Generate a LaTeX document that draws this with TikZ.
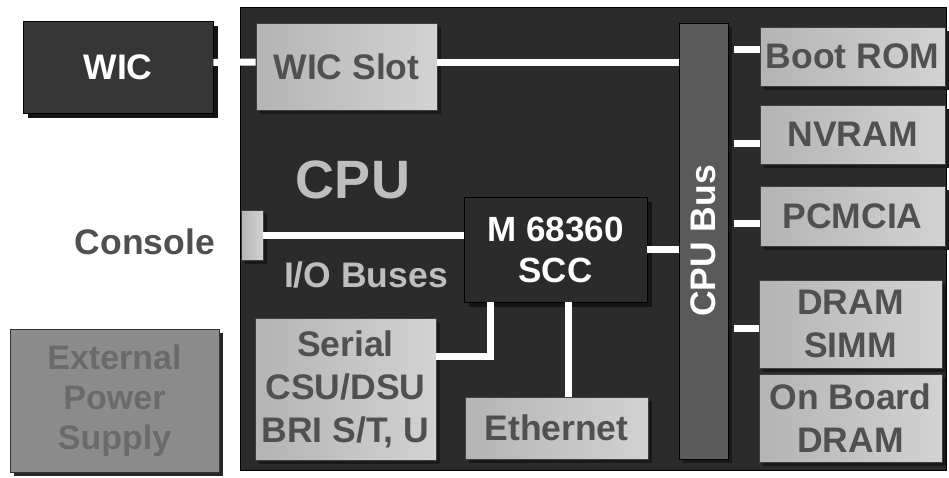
\documentclass[tikz,border=0pt]{standalone}
\usepackage{fontspec}
\setmainfont{Liberation Sans}
\usetikzlibrary{shadows}
\definecolor{cpubg}{HTML}{2B2B2B}
\definecolor{wicbg}{HTML}{363636}
\definecolor{busbg}{HTML}{5A5A5A}
\definecolor{lboxL}{HTML}{B4B4B4}
\definecolor{lboxR}{HTML}{D2D2D2}
\definecolor{ltext}{HTML}{505050}
\definecolor{epsbg}{HTML}{8C8C8C}
\definecolor{epstext}{HTML}{6A6A6A}
\definecolor{cputext}{HTML}{BEBEBE}
\tikzset{
  bigfont/.style={font=\bfseries\fontsize{35.5}{43}\selectfont},
  base/.style={rectangle, inner sep=0pt, align=center, bigfont},
  lbox/.style={base, draw=black!75, line width=0.8pt, left color=lboxL, right color=lboxR, text=ltext,
    drop shadow={shadow xshift=4pt, shadow yshift=-4pt, fill=black!90, opacity=1}},
  dbox/.style={base, draw=black, line width=0.8pt, fill=#1, text=white,
    drop shadow={shadow xshift=5pt, shadow yshift=-5pt, fill=black!92, opacity=1}},
  wire/.style={draw=white, line width=7pt},
}
\begin{document}
\begin{tikzpicture}[x=1pt, y=-1pt]
\useasboundingbox[fill=white] (0,0) rectangle (949,477);
% main CPU board
\node[rectangle, draw=black, line width=0.8pt, fill=cpubg, minimum width=706pt, minimum height=463pt, inner sep=0pt] (cpu) at (593,238.5) {};
% outside blocks
\node[dbox=wicbg, minimum width=190pt, minimum height=92pt] (wic) at (118,67) {WIC};
\node[base, text=ltext, anchor=east] (console) at (215,242) {Console};
\node[base, draw=black!80, line width=0.8pt, fill=epsbg, text=epstext, minimum width=209pt, minimum height=143pt,
  drop shadow={shadow xshift=4pt, shadow yshift=-4pt, fill=black!85, opacity=1},
  font=\bfseries\fontsize{34}{40}\selectfont] (eps) at (114.5,400.5) {External\\Power\\Supply};
% inside blocks
\node[lbox, minimum width=181pt, minimum height=87pt] (wicslot) at (346.5,66.5) {WIC Slot};
\node[base, draw=black, line width=0.8pt, fill=busbg, minimum width=49pt, minimum height=436pt,
  drop shadow={shadow xshift=4pt, shadow yshift=-4pt, fill=black!90, opacity=1}] (bus) at (703.5,241) {};
\node[base, text=white, rotate=90] (bustext) at (703.5,241) {CPU Bus};
\node[lbox, minimum width=185pt, minimum height=59pt] (bootrom) at (852.5,56.5) {Boot ROM};
\node[lbox, minimum width=185pt, minimum height=59pt] (nvram) at (852.5,134.5) {NVRAM};
\node[lbox, minimum width=185pt, minimum height=60pt] (pcmcia) at (852.5,216) {PCMCIA};
\node[lbox, minimum width=183pt, minimum height=88pt] (dramsimm) at (850.5,324) {DRAM\\SIMM};
\node[lbox, minimum width=183pt, minimum height=88pt] (onboard) at (850.5,418) {On Board\\DRAM};
\node[dbox=cpubg, minimum width=183pt, minimum height=105pt, font=\bfseries\fontsize{35}{41}\selectfont] (scc) at (555.5,249.5) {M 68360\\SCC};
\node[lbox, minimum width=22pt, minimum height=50pt] (port) at (252,235) {};
\node[lbox, minimum width=181pt, minimum height=142pt] (serial) at (345.5,389) {Serial\\CSU/DSU\\BRI S/T, U};
\node[lbox, minimum width=183pt, minimum height=62pt] (ethernet) at (556.5,428) {Ethernet};
% labels
\node[base, text=cputext, font=\bfseries\fontsize{54}{60}\selectfont] (cpulabel) at (353,180) {CPU};
\node[base, text=cputext] (iolabel) at (366,275) {I/O Buses};
% connectors
\draw[wire] ([yshift=4.5pt]wic.east) -- ([yshift=4.5pt]wicslot.west);
\coordinate (ws) at ([yshift=4.5pt]wicslot.east);
\draw[wire] (ws) -- (ws -| bus.west);
\coordinate (br) at ([yshift=7.5pt]bootrom.west);
\draw[wire] ([xshift=6pt]br -| bus.east) -- (br);
\coordinate (nv) at ([yshift=-8.5pt]nvram.west);
\draw[wire] ([xshift=6pt]nv -| bus.east) -- (nv);
\coordinate (pc) at ([yshift=-7pt]pcmcia.west);
\draw[wire] ([xshift=6pt]pc -| bus.east) -- (pc);
\coordinate (ds) at ([yshift=-4pt]dramsimm.west);
\draw[wire] ([xshift=6pt]ds -| bus.east) -- (ds);
\draw[wire] (scc.east) -- (scc.east -| bus.west);
\draw[wire] (port.east) -- (port.east -| scc.west);
\draw[wire] ([yshift=33pt]serial.east) -| ([xshift=-65.5pt]scc.south);
\coordinate (et) at ([xshift=12.5pt]scc.south);
\draw[wire] (et) -- (et |- ethernet.north);
\end{tikzpicture}
\end{document}
